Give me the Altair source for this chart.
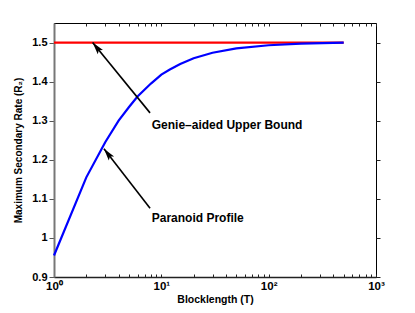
import math
import altair as alt
import pandas as pd

# ---- data ----
T = [1, 2, 3, 4, 5, 6, 8, 10, 12, 15, 20, 30, 50, 100, 200, 500]
R = [0.955, 1.155, 1.245, 1.300, 1.335, 1.362, 1.395, 1.418, 1.431,
     1.445, 1.460, 1.474, 1.485, 1.493, 1.497, 1.500]
bound_T = [1, 500]
bound_R = [1.5, 1.5]

labels = ["Genie\u2013aided Upper Bound", "Paranoid Profile"]
label_T = [8.14, 8.14]
label_R = [1.29, 1.052]
tail_T = [7.85, 7.85]
tail_R = [1.32, 1.076]
tip_T = [2.29, 2.92]
tip_R = [1.5, 1.228]

x_major = [1, 10, 100, 1000]
x_minor = [2, 3, 4, 5, 6, 7, 8, 9, 10, 20, 30, 40, 50, 60, 70, 80, 90, 100,
           200, 300, 400, 500, 600, 700, 800, 900]
y_ticks = [0.9, 1.0, 1.1, 1.2, 1.3, 1.4, 1.5]

W, H = 322, 254
XD = [1, 1000]
YD = [0.9, 1.55]
FONT = "Liberation Sans"

xs = alt.Scale(type="log", domain=XD, nice=False)
ys = alt.Scale(domain=YD, nice=False, zero=False)

# arrowhead angles from the pixel geometry of the scales
def px(t, r):
    x = W * (math.log10(t) - math.log10(XD[0])) / (math.log10(XD[1]) - math.log10(XD[0]))
    y = H * (1 - (r - YD[0]) / (YD[1] - YD[0]))
    return x, y

angles = []
for a, b, c, d in zip(tail_T, tail_R, tip_T, tip_R):
    x0, y0 = px(a, b)
    x1, y1 = px(c, d)
    angles.append(math.degrees(math.atan2(x1 - x0, -(y1 - y0))) % 360)

curve = pd.DataFrame({"T": T, "R": R})
bound = pd.DataFrame({"T": bound_T, "R": bound_R})
text_df = pd.DataFrame({"T": label_T, "R": label_R, "label": labels})
seg_rows = []
for i in range(len(labels)):
    seg_rows.append({"T": tail_T[i], "R": tail_R[i], "g": i, "o": 0})
    seg_rows.append({"T": tip_T[i], "R": tip_R[i], "g": i, "o": 1})
segs = pd.DataFrame(seg_rows)
heads = pd.DataFrame({"T": tip_T, "R": tip_R, "angle": angles})

label_expr = ("datum.value == 1 ? '10\u2070' : datum.value == 10 ? '10\u00b9' : "
              "datum.value == 100 ? '10\u00b2' : '10\u00b3'")

red = alt.Chart(bound).mark_line(color="#ff0000", strokeWidth=2.2).encode(
    x=alt.X("T:Q", scale=xs, axis=alt.Axis(
        orient="bottom", values=x_major, labelExpr=label_expr, ticks=False,
        title="Blocklength (T)", titleFontSize=10.5, titlePadding=3,
        labelFontSize=11.5, labelPadding=3, grid=False,
        domainColor="#222222", domainWidth=1.5, labelFlush=False)),
    y=alt.Y("R:Q", scale=ys, axis=alt.Axis(
        orient="left", values=y_ticks, format="~g", tickSize=5,
        tickColor="#555555", tickWidth=1,
        title="Maximum Secondary Rate (R\u2082)", titleFontSize=10,
        titlePadding=8, labelFontSize=11, labelPadding=2, grid=False,
        domainColor="#777777", domainWidth=2)),
)

blue = alt.Chart(curve).mark_line(color="#0000ff", strokeWidth=2.2).encode(
    x=alt.X("T:Q", scale=xs, axis=alt.Axis(
        orient="top", offset=-H, values=x_minor + x_major, labels=False,
        domain=False, tickSize=3, tickColor="#222222", title="", grid=False)),
    y=alt.Y("R:Q", scale=ys, axis=alt.Axis(
        orient="right", values=y_ticks, labels=False, domain=False,
        tickSize=4, tickColor="#222222", title="", grid=False)),
)

txt = alt.Chart(text_df).mark_text(
    align="left", baseline="middle", font=FONT, fontSize=12,
    fontWeight="bold", color="black").encode(
    x=alt.X("T:Q", scale=xs, axis=alt.Axis(
        orient="bottom", offset=-H, values=x_minor + x_major, labels=False,
        domain=False, tickSize=3, tickColor="#222222", title="", grid=False)),
    y=alt.Y("R:Q", scale=ys, axis=None),
    text="label:N",
)

arrows = alt.Chart(segs).mark_line(color="black", strokeWidth=1.6).encode(
    x=alt.X("T:Q", scale=xs, axis=None),
    y=alt.Y("R:Q", scale=ys, axis=None),
    detail="g:N",
    order="o:Q",
)

head_path = "M0,0L-0.55,2L0,1.6L0.55,2Z"
heads_l = alt.Chart(heads).mark_point(
    shape=head_path, filled=True, color="black", size=150, opacity=1).encode(
    x=alt.X("T:Q", scale=xs, axis=None),
    y=alt.Y("R:Q", scale=ys, axis=None),
    angle=alt.Angle("angle:Q", scale=None),
)

chart = alt.layer(red, blue, txt, arrows, heads_l).resolve_axis(
    x="independent", y="independent"
).properties(
    width=W, height=H,
    autosize=alt.AutoSizeParams(type="none"),
    padding={"left": 46, "top": 15, "right": 30, "bottom": 36},
).configure(
    font=FONT,
).configure_axis(
    labelFont=FONT, titleFont=FONT, labelFontWeight="bold",
    titleFontWeight="bold", labelColor="black", titleColor="black",
).configure_view(
    stroke="black", strokeWidth=1,
).configure_legend(disable=True)

chart.save("out.html", embed_options={"renderer": "svg", "actions": False})
